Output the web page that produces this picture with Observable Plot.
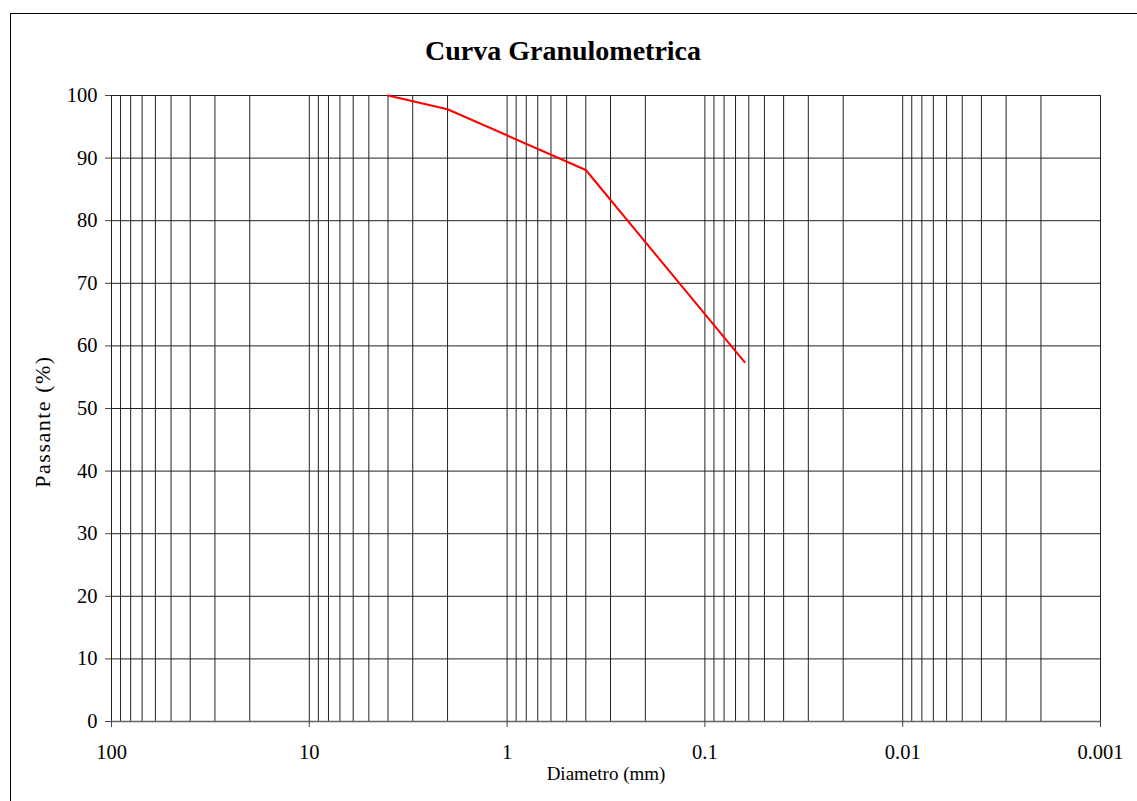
<!DOCTYPE html>
<html>
<head>
<meta charset="utf-8">
<script src="https://cdn.jsdelivr.net/npm/d3@7"></script>
<script src="https://cdn.jsdelivr.net/npm/@observablehq/plot@0.6"></script>
<style>
  html, body { margin: 0; padding: 0; background: #fff; overflow: hidden; width: 1137px; height: 801px; }
  #wrap { position: relative; width: 1137px; height: 801px; }
  #frame { position: absolute; left: 10px; top: 13px; width: 1200px; height: 900px; border: 1.5px solid #000; box-sizing: border-box; }
  #chart { position: absolute; left: 0; top: 0; }
</style>
</head>
<body>
<div id="wrap">
  <div id="frame"></div>
  <div id="chart"></div>
</div>
<script>
// Data
const diameters = [4, 2, 0.4, 0.063];        // mm
const passing = [100, 97.8, 88.1, 57.4];      // %
const xMajorTicks = [100, 10, 1, 0.1, 0.01, 0.001];
const xTickLabels = ["100", "10", "1", "0.1", "0.01", "0.001"];
const yTicks = [0, 10, 20, 30, 40, 50, 60, 70, 80, 90, 100];
const titleText = "Curva Granulometrica";
const xLabel = "Diametro (mm)";
const yLabel = "Passante (%)";

const data = diameters.map((d, i) => ({d, p: passing[i]}));
// log grid lines: 1..9 × each decade
const decades = [0.001, 0.01, 0.1, 1, 10];
const minorGrid = [];
for (const dec of decades) for (let k = 1; k <= 9; k++) minorGrid.push(+(k * dec).toPrecision(3));
minorGrid.push(100);
const labelMap = new Map(xMajorTicks.map((t, i) => [t, xTickLabels[i]]));

const font = "'Liberation Serif', 'Times New Roman', serif";

const chart = Plot.plot({
  width: 1137,
  height: 801,
  marginLeft: 111,
  marginRight: 37,
  marginTop: 95,
  marginBottom: 80,
  style: {fontFamily: font, fontSize: "20.5px", background: "transparent", color: "#000", overflow: "visible"},
  x: {type: "log", domain: [100, 0.001]},
  y: {domain: [0, 100]},
  marks: [
    Plot.ruleX(minorGrid, {stroke: "#222", strokeWidth: 1}),
    Plot.ruleY(yTicks, {stroke: "#222", strokeWidth: 1}),
    Plot.ruleY([0], {stroke: "#666", strokeWidth: 1.5}),
    Plot.axisX({ticks: xMajorTicks, tickFormat: t => labelMap.get(t) ?? "", tickSize: 6, tickPadding: 17, label: null, stroke: "#444"}),
    Plot.axisY({ticks: yTicks, tickSize: 6, tickPadding: 8, label: null, stroke: "#444"}),
    Plot.line(data, {x: "d", y: "p", stroke: "#ff0000", strokeWidth: 2}),
    Plot.text([titleText], {frameAnchor: "top", dx: -43, dy: -36, lineAnchor: "bottom", fontSize: 28, fontWeight: "bold", fill: "#000"}),
    Plot.text([xLabel], {frameAnchor: "bottom", dy: 52, lineAnchor: "middle", fontSize: 19, fill: "#000"}),
    Plot.text([yLabel], {frameAnchor: "left", dx: -69, dy: 13, rotate: -90, lineAnchor: "middle", textAnchor: "middle", fontSize: 22, fill: "#000", className: "ylab"})
  ]
});
d3.select(chart).selectAll("g.ylab text").attr("letter-spacing", "1.5px");
document.getElementById("chart").appendChild(chart);
</script>
</body>
</html>
